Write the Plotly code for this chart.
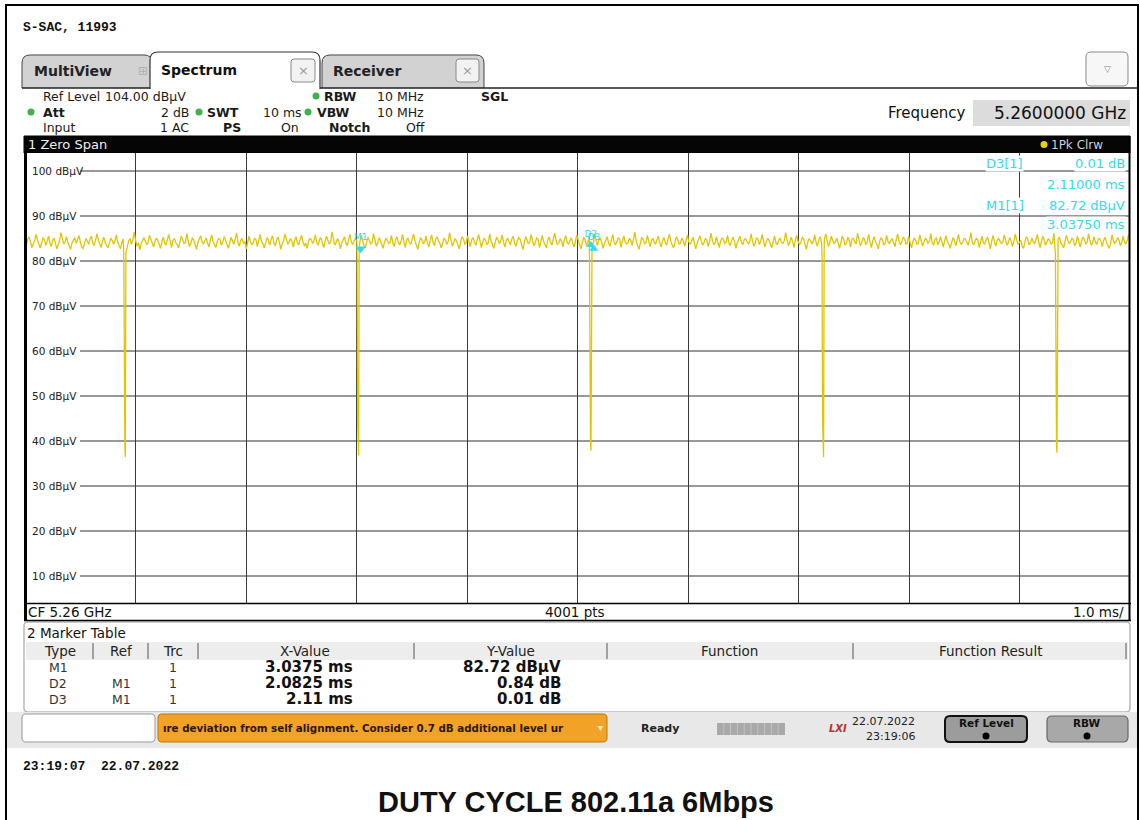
import numpy as np
import plotly.graph_objects as go

# ---------------- data ----------------
noise_levels = [
    84.1,83.6,84.9,85.3,84.2,83.0,83.8,84.6,85.9,84.4,83.7,82.9,84.0,85.1,84.8,83.5,84.3,85.6,84.0,83.2,
    84.7,85.0,83.9,82.7,83.6,84.5,86.3,84.9,83.8,84.2,85.4,84.1,83.3,82.6,84.0,84.8,85.2,83.9,84.6,85.7,
    84.3,83.1,82.8,84.2,85.0,84.5,83.7,84.9,85.5,84.0,83.4,84.6,86.0,84.7,83.9,83.0,84.4,85.3,84.1,83.6,
    82.9,84.0,85.1,84.6,83.8,84.3,85.8,84.2,83.5,82.7,84.1,84.9,85.4,84.0,83.2,84.5,85.0,83.7,84.8,86.4,
    84.5,83.3,84.0,82.5,83.9,84.7,85.2,84.4,83.6,84.1,85.7,84.9,83.8,83.1,84.3,85.1,84.6,83.4,82.8,84.2,
    85.3,84.0,83.5,84.8,85.9,84.3,83.0,84.6,85.0,84.1,83.7,82.9,84.4,85.5,84.7,83.9,84.2,86.1,84.5,83.2,
    84.0,85.2,84.6,83.4,82.6,84.1,84.9,85.6,84.3,83.8,84.5,85.1,84.0,83.1,84.7,85.8,84.2,83.6,83.0,84.4,
    85.0,84.8,83.5,84.2,85.4,84.6,83.9,82.8,84.0,85.3,84.5,83.7,84.9,86.2,84.1,83.3,84.6,85.0,83.8,84.3,
    82.7,84.1,85.5,84.4,83.6,84.0,85.1,84.7,83.2,84.5,85.9,84.3,83.8,82.9,84.2,85.2,84.6,83.5,84.8,85.6,
    84.0,83.4,84.7,85.3,84.1,82.6,83.9,84.5,86.0,84.8,83.7,84.2,85.0,84.4,83.1,84.6,85.4,84.0,83.6,84.9,
    85.7,84.2,83.3,84.0,82.8,84.3,85.1,84.7,83.9,84.5,85.8,84.1,83.5,84.8,85.2,84.0,83.0,84.4,85.5,84.6,
    83.8,84.2,86.5,84.9,83.6,84.1,85.0,84.3,82.7,83.9,84.6,85.4,84.0,83.4,84.7,85.9,84.2,83.7,84.5,85.1,
    84.4,83.1,84.0,85.6,84.8,83.5,82.9,84.2,85.3,84.6,83.8,84.1,86.1,84.7,83.3,84.0,85.2,84.5,83.6,82.8,
    84.3,85.0,84.6,83.9,84.2,85.7,84.0,83.2,84.8,85.4,84.1,83.6,84.5,85.9,84.3,83.0,84.7,85.1,84.0,83.7,
    84.9,86.0,84.4,83.5,82.6,84.1,85.2,84.7,83.8,84.3,85.5,84.0,83.1,84.6,85.8,84.2,83.4,84.9,85.3,84.5,
    83.9,82.9,84.0,85.1,84.6,83.7,84.4,86.3,84.8,83.3,84.1,85.0,84.5,83.6,82.7,84.2,85.4,84.9,83.8,84.0,
    85.6,84.3,83.2,84.7,85.2,84.1,83.5,84.8,85.9,84.4,83.0,84.2,85.1,84.6,83.7,84.0,86.0,84.5,83.4,82.8,
    84.1,85.3,84.7,83.9,84.4,85.8,84.2,83.1,84.6,85.0,84.3,83.6,84.9,85.5,84.0,83.3,84.5,85.2,84.8,83.7,
    82.6,84.0,85.4,84.6,83.8,84.2,85.9,84.5,83.4,84.1,85.1,84.8,83.0,84.3,85.7,84.4,83.6,82.9,84.7,85.3,
    84.2,83.5,84.9,86.2,84.6,83.7,84.0,85.0,84.4,83.2,84.8,85.6,84.1,83.8,84.5,85.2,84.0,83.1,84.3,85.8,
    84.7,83.9,82.7,84.1,85.3,84.6,83.4,84.2,85.5,84.9,83.7,84.0,86.1,84.3,83.5,84.8,85.0,84.2,82.8,83.9,
    84.6,85.4,84.0,83.3,84.7,85.9,84.1,83.6,84.4,85.2,84.8,83.0,84.5,85.6,84.2,83.8,84.0,85.1,84.6,83.4,
    84.9,86.4,84.3,83.5,82.6,84.0,85.3,84.7,83.9,84.1,85.7,84.4,83.2,84.6,85.0,84.2,83.7,84.8,85.5,84.0,
    83.1,84.5,85.2,84.1,83.6,84.9,86.0,84.3,83.4,82.9,84.2,85.4,84.7,83.8,84.0,85.1,84.5,83.3,84.6,85.8,
    84.2,83.7,84.4,85.3,84.0,82.7,83.9,84.8,85.6,84.5,83.5,84.1,85.0,84.6,83.2,84.3,86.2,84.7,83.6,84.0,
    85.4,84.1,83.0,84.5,85.1,84.8,83.9,84.2,85.7,84.0,83.4,84.6,85.3,84.3,82.8,84.0,84.9,85.5,84.2,83.6,
    84.7,85.0,84.4,83.8,84.1,86.1,84.6,83.3,84.0,85.2,84.8,83.7,84.3,85.9,84.5,83.1,84.2,85.0,84.6,83.5,
    82.9,84.3,85.6,84.0,83.6,84.7,85.1,84.2,83.9,84.5,86.3,84.8,83.4,84.1,85.3,84.4,83.0,84.6,85.7,84.3,
    83.7,84.0,85.2,84.9,83.5,82.6,84.2,85.0,84.5,83.8,84.3,85.8,84.1,83.3,84.7,85.4,84.0,83.6,84.8,86.0,
    84.4,83.2,84.1,85.5,84.6,83.9,84.3,85.1,84.0,82.8,84.2,85.6,84.7,83.5,84.0,85.3,84.5,83.1,84.9,85.0,
    84.2,83.8,86.2,84.6,83.4,84.0,85.2,84.8,83.6,84.3,85.9,84.1,83.0,84.5,85.4,84.2,83.7,82.7,84.4,85.1,
    84.7,83.5,84.0,85.7,84.3,83.9,84.6,85.0,84.1,83.2,84.8,86.0,84.4,83.6,84.2,85.3,84.9,83.8,84.0,85.5,
    84.1,82.9,84.3,85.1,84.6,83.7,84.0,85.8,84.5,83.3,84.2,85.0,84.7,83.9,84.4,86.1,84.0,83.5,84.8,85.2,
    83.6,84.2,85.4,84.0,83.1,84.6,85.6,84.3,83.8,82.8,84.1,85.2,84.7,83.4,84.5,85.9,84.2,83.7,84.0,85.0,
    84.9,84.3,83.5,84.8,86.3,84.1,83.6,84.4,85.1,84.6,83.0,84.2,85.5,84.0,83.8,84.7,85.3,84.1,82.7,84.5,
    85.7,84.2,83.3,84.6,85.0,84.4,83.9,84.1,85.8,84.7,83.5,84.0,85.2,84.5,83.2,84.3,86.0,84.8,83.7,84.1,
    84.6,83.4,82.8,84.2,85.4,84.9,83.6,84.0,85.1,84.3,83.8,84.7,85.9,84.1,83.0,84.4,85.5,84.6,83.5,84.2,
    85.0,84.5,83.7,84.1,86.2,84.4,83.3,84.8,85.3,84.0,83.6,82.9,84.3,85.7,84.6,83.9,84.2,85.1,84.7,83.4,
    84.0,85.6,84.3,83.1,84.5,85.2,84.8,83.8,84.1,86.1,84.6,83.5,84.0,85.4,84.2,83.7,84.9,85.0,84.4,83.2,
    84.6,85.3,84.1,83.6,82.8,84.0,85.8,84.5,83.9,84.3,85.2,84.7,83.4,84.1,85.5,84.2,83.8,84.6,85.9,84.3,
]
sweep_time_ms = 10.0

dip_centers_ms = [0.904, 3.015, 5.118, 7.223, 9.335]
dip_offsets_ms = [-0.010, -0.005, 0.0, 0.004, 0.009]
dip_levels = [
    [81.3, 44.0, 38.5, 36.4, 81.8],
    [81.0, 45.0, 39.0, 36.8, 82.2],
    [81.6, 46.0, 40.0, 37.9, 81.4],
    [81.2, 44.5, 38.8, 36.4, 82.0],
    [81.5, 45.5, 39.5, 37.4, 81.7],
]

y_tick_values = [100, 90, 80, 70, 60, 50, 40, 30, 20, 10]
ref_level = 104.0

m1_time, m1_level = 3.0375, 82.72
d2_dx, d2_dy = 2.0825, 0.84
d3_dx, d3_dy = 2.11, 0.01
table_types = ["M1", "D2", "D3"]
table_refs = ["", "M1", "M1"]
table_trc = ["1", "1", "1"]
table_x = ["3.0375 ms", "2.0825 ms", "2.11 ms"]
table_y = ["82.72 dBµV", "0.84 dB", "0.01 dB"]

# ---------------- build trace ----------------
N = len(noise_levels)
noise_t = np.linspace(0, sweep_time_ms, N)
noise_y = np.array(noise_levels)
keep = np.ones(N, dtype=bool)
for c in dip_centers_ms:
    keep &= np.abs(noise_t - c) > 0.011
t_all = list(noise_t[keep])
y_all = list(noise_y[keep])
for c, lv in zip(dip_centers_ms, dip_levels):
    for o, v in zip(dip_offsets_ms, lv):
        t_all.append(c + o)
        y_all.append(v)
order = np.argsort(t_all)
t_all = np.array(t_all)[order]
y_all = np.array(y_all)[order]

# ---------------- helpers ----------------
W, H = 1140, 820
UI = "DejaVu Sans"
MONO = "Liberation Mono"
CYAN = "#2fdcef"
YEL = "#e0c600"


def X(px):
    return px / W


def Y(py):
    return 1 - py / H


shapes = []
annotations = []


def rect(x0, y0, x1, y1, fill=None, line=None, lw=1, layer="below"):
    shapes.append(dict(type="rect", xref="paper", yref="paper",
                       x0=X(x0), x1=X(x1), y0=Y(y1), y1=Y(y0),
                       fillcolor=fill if fill else "rgba(0,0,0,0)",
                       line=dict(color=line if line else "rgba(0,0,0,0)", width=lw if line else 0),
                       layer=layer))


def hline(x0, x1, y, color="#000", lw=1, layer="above"):
    shapes.append(dict(type="line", xref="paper", yref="paper", x0=X(x0), x1=X(x1),
                       y0=Y(y), y1=Y(y), line=dict(color=color, width=lw), layer=layer))


def vline(x, y0, y1, color="#000", lw=1, layer="above"):
    shapes.append(dict(type="line", xref="paper", yref="paper", x0=X(x), x1=X(x),
                       y0=Y(y0), y1=Y(y1), line=dict(color=color, width=lw), layer=layer))


def path(segs, fill=None, line="#000", lw=1, layer="below"):
    s = ""
    for seg in segs:
        cmd = seg[0]
        nums = seg[1:]
        s += cmd
        for i in range(0, len(nums), 2):
            s += " %.5f,%.5f" % (X(nums[i]), Y(nums[i + 1]))
        s += " "
    shapes.append(dict(type="path", xref="paper", yref="paper", path=s.strip(),
                       fillcolor=fill if fill else "rgba(0,0,0,0)",
                       line=dict(color=line if line else "rgba(0,0,0,0)", width=lw if line else 0),
                       layer=layer))


def rrect(x0, y0, x1, y1, r, fill=None, line="#000", lw=1, layer="below"):
    path([("M", x0 + r, y0), ("L", x1 - r, y0), ("Q", x1, y0, x1, y0 + r),
          ("L", x1, y1 - r), ("Q", x1, y1, x1 - r, y1), ("L", x0 + r, y1),
          ("Q", x0, y1, x0, y1 - r), ("L", x0, y0 + r), ("Q", x0, y0, x0 + r, y0), ("Z",)],
         fill=fill, line=line, lw=lw, layer=layer)


def circle(cx, cy, r, color, layer="above"):
    shapes.append(dict(type="circle", xref="paper", yref="paper",
                       x0=X(cx - r), x1=X(cx + r), y0=Y(cy + r), y1=Y(cy - r),
                       fillcolor=color, line=dict(width=0), layer=layer))


def txt(x, y, s, size=11, color="#1a1a1a", anchor="left", family=UI, bg=None):
    d = dict(x=X(x), y=Y(y), xref="paper", yref="paper", text=s, showarrow=False,
             xanchor=anchor, yanchor="middle", font=dict(size=size, color=color, family=family),
             borderpad=0)
    if bg:
        d["bgcolor"] = bg
    annotations.append(d)


# ---------------- page frame ----------------
rect(6, 5, 1138, 830, fill="#ffffff", line="#000", lw=2)
txt(22, 27, "<b>S-SAC, 11993</b>", 13, "#111", family=MONO)

# tabs
path([("M", 22, 88), ("L", 22, 63), ("Q", 22, 55, 30, 55), ("L", 144, 55),
      ("Q", 152, 55, 152, 63), ("L", 152, 88)], fill="#d2d2d2", line="#444", lw=1)
path([("M", 322, 88), ("L", 322, 63), ("Q", 322, 55, 330, 55), ("L", 476, 55),
      ("Q", 484, 55, 484, 63), ("L", 484, 88)], fill="#d2d2d2", line="#444", lw=1)
path([("M", 150, 89), ("L", 150, 60), ("Q", 150, 52, 158, 52), ("L", 312, 52),
      ("Q", 320, 52, 320, 60), ("L", 320, 89)], fill="#ffffff", line="#333", lw=1.2)
hline(22, 150, 88, "#222", 1.5, "below")
hline(320, 1138, 88, "#222", 1.5, "below")
txt(33, 71, "<b>MultiView</b>", 14, "#222")
txt(143, 71, "⊞", 12, "#b0b0b0", anchor="center")
txt(160, 70, "<b>Spectrum</b>", 14, "#111")
txt(332, 71, "<b>Receiver</b>", 14, "#222")
rrect(291, 59, 315, 82, 3, fill="#f2f2f2", line="#888")
txt(303, 70.5, "×", 13, "#999", anchor="center")
rrect(456, 59, 479, 82, 3, fill="#f2f2f2", line="#888")
txt(467.5, 70.5, "×", 13, "#999", anchor="center")
rrect(1086, 52, 1128, 86, 5, fill="#f7f7f7", line="#888")
txt(1107, 69, "▽", 9, "#888", anchor="center")

# header settings
GREEN = "#3fb24a"
HL = 12.5
HV = 12.5
txt(42, 96, "Ref Level", HL)
txt(104, 96, "104.00 dBµV", HV)
circle(316, 96, 3.5, GREEN)
txt(323, 96, "<b>RBW</b>", HL)
txt(376, 96, "10 MHz", HV)
txt(480, 96, "<b>SGL</b>", HL)
circle(31, 112, 3.5, GREEN)
txt(42, 112, "<b>Att</b>", HL)
txt(190, 112, "2 dB", HV, anchor="right")
circle(199, 112, 3.5, GREEN)
txt(206, 112, "<b>SWT</b>", HL)
txt(262, 112, "10 ms", HV)
circle(308, 112, 3.5, GREEN)
txt(316, 112, "<b>VBW</b>", HL)
txt(376, 112, "10 MHz", HV)
txt(42, 127, "Input", HL)
txt(190, 127, "1 AC", HV, anchor="right")
txt(222, 127, "<b>PS</b>", HL)
txt(300, 127, "On", HV, anchor="right")
txt(328, 127, "<b>Notch</b>", HL)
txt(426, 127, "Off", HV, anchor="right")

txt(887, 113, "Frequency", 15, "#111")
rect(973, 100, 1130, 126, fill="#dcdcdc")
txt(1127, 113, "5.2600000 GHz", 17, "#111", anchor="right")

# zero span bar
rect(24, 136, 1130, 153, fill="#050505", line="#000")
txt(27, 144.5, "1 Zero Span", 13, "#eeeeee")
circle(1044, 144.5, 3.5, "#e8d400")
txt(1050, 144.5, "1Pk Clrw", 12, "#cfcfcf")

# plot background and horizontal gridlines
rect(25, 153, 1130, 603, fill="#ffffff", layer="below")
for v in y_tick_values:
    shapes.append(dict(type="line", xref="paper", yref="y", x0=X(80), x1=X(1129),
                       y0=v, y1=v, line=dict(color="#333", width=1), layer="below"))
    annotations.append(dict(x=X(30), y=v, xref="paper", yref="y", text=f"{v} dBµV",
                            showarrow=False, xanchor="left", yanchor="middle",
                            font=dict(size=10.5, color="#222", family=UI)))

# plot frame
vline(25.5, 136, 621, "#000", 3)
vline(1129.5, 136, 621, "#000", 2)
hline(24, 1131, 603.5, "#000", 1.5)
rect(26, 604, 1129, 620, fill="#ffffff", layer="below")
hline(24, 1131, 620.5, "#000", 1.5)
txt(27, 612, "CF 5.26 GHz", 13.5, "#111")
txt(575, 612, "4001 pts", 13.5, "#111", anchor="center")
txt(1125, 612, "1.0 ms/", 13.5, "#111", anchor="right")

# marker info box
txt(985, 164, "D3[1]", 13, CYAN, bg="#ffffff")
txt(1126, 164, f"{d3_dy:.2f} dB", 13, CYAN, anchor="right", bg="#ffffff")
txt(1126, 185, f"{d3_dx:.5f} ms", 13, CYAN, anchor="right", bg="#ffffff")
txt(985, 205, "M1[1]", 13, CYAN, bg="#ffffff")
txt(1126, 205, f"{m1_level:.2f} dBµV", 13, CYAN, anchor="right", bg="#ffffff")
txt(1126, 224, f"{m1_time:.5f} ms", 13, CYAN, anchor="right", bg="#ffffff")

# marker table
rrect(24, 622, 1130, 712, 4, fill="#ffffff", line="#b8b8b8", lw=1.5)
rect(26, 642, 1128, 660, fill="#ededed")
txt(26, 633, "2 Marker Table", 13.5, "#111")
for sx in [93, 148, 198, 414, 607, 853, 1126]:
    vline(sx, 643, 659, "#555", 1)
for hx, ht in [(60, "Type"), (121, "Ref"), (173, "Trc"), (305, "X-Value"),
               (510, "Y-Value"), (729, "Function"), (990, "Function Result")]:
    txt(hx, 651, ht, 13.5, "#222", anchor="center")
for i, ry in enumerate([667, 683, 699]):
    txt(58, ry, table_types[i], 12.5, "#333", anchor="center")
    txt(121, ry, table_refs[i], 12.5, "#333", anchor="center")
    txt(173, ry, table_trc[i], 12.5, "#333", anchor="center")
    txt(354, ry, f"<b>{table_x[i]}</b>", 15, "#111", anchor="right")
    txt(562, ry, f"<b>{table_y[i]}</b>", 15, "#111", anchor="right")

# status bar
rect(7, 712, 1137, 748, fill="#e8e8e8")
rrect(22, 714, 155, 742, 4, fill="#ffffff", line="#999")
rrect(158, 714, 607, 742, 4, fill="#f2a227", line="#b8780c")
txt(162, 728, "<b>ıre deviation from self alignment. Consider 0.7 dB additional level ur</b>", 10.3, "#2a1800")
txt(600, 727, "▾", 10, "#fff3d8", anchor="center")
txt(660, 728, "<b>Ready</b>", 11, "#222", anchor="center")
rect(717, 723, 785, 735, fill="#a9a9a9")
for k in range(1, 10):
    vline(717 + k * 6.8, 723, 735, "#c8c8c8", 0.8)
txt(838, 728, "<b><i>LXI</i></b>", 10, "#b8312f", anchor="center")
txt(916, 721, "22.07.2022", 11, "#222", anchor="right")
txt(916, 736, "23:19:06", 11, "#222", anchor="right")
rrect(945, 716, 1027, 742, 5, fill="#9c9c9c", line="#111", lw=2)
txt(986, 723, "<b>Ref Level</b>", 10.5, "#111", anchor="center")
circle(986, 736, 3.5, "#000")
rrect(1047, 716, 1128, 742, 5, fill="#a8a8a8", line="#666", lw=1.2)
txt(1087, 723, "<b>RBW</b>", 10.5, "#111", anchor="center")
circle(1087, 736, 3.5, "#000")

# footer
txt(22, 766, "<b>23:19:07  22.07.2022</b>", 13, "#111", family=MONO)
txt(575.5, 802, "<b>DUTY CYCLE 802.11a 6Mbps</b>", 29, "#111", anchor="center",
    family="Liberation Sans")

# ---------------- figure ----------------
fig = go.Figure()
fig.add_trace(go.Scatter(x=t_all, y=y_all, mode="lines",
                         line=dict(color=YEL, width=1.3), hoverinfo="skip"))
fig.add_trace(go.Scatter(x=[m1_time], y=[m1_level], mode="markers+text", text=["M1"],
                         textposition="top center",
                         textfont=dict(size=9, color=CYAN, family=UI),
                         marker=dict(symbol="triangle-down", size=9, color=CYAN)))
fig.add_trace(go.Scatter(x=[m1_time + d2_dx, m1_time + d3_dx],
                         y=[m1_level + d2_dy, m1_level + d3_dy],
                         mode="markers+text", text=["D2", "D3"],
                         textposition="top center",
                         textfont=dict(size=9, color=CYAN, family=UI),
                         marker=dict(symbol="triangle-up", size=8, color=CYAN)))

fig.update_layout(
    width=W, height=H, margin=dict(l=0, r=0, t=0, b=0),
    paper_bgcolor="#ffffff", plot_bgcolor="rgba(0,0,0,0)",
    showlegend=False, shapes=shapes, annotations=annotations,
    xaxis=dict(domain=[X(25), X(1130)], range=[0, sweep_time_ms], tickvals=list(range(1, 10)),
               showgrid=True, gridcolor="#3a3a3a", gridwidth=1, showticklabels=False,
               zeroline=False, ticks="", showline=False, fixedrange=True),
    yaxis=dict(domain=[Y(603), Y(153)], range=[ref_level - 100, ref_level], showgrid=False,
               showticklabels=False, zeroline=False, ticks="", showline=False, fixedrange=True),
)

fig.write_html("out.html", config={"displayModeBar": False},
               post_script="document.body.style.margin='0';")
